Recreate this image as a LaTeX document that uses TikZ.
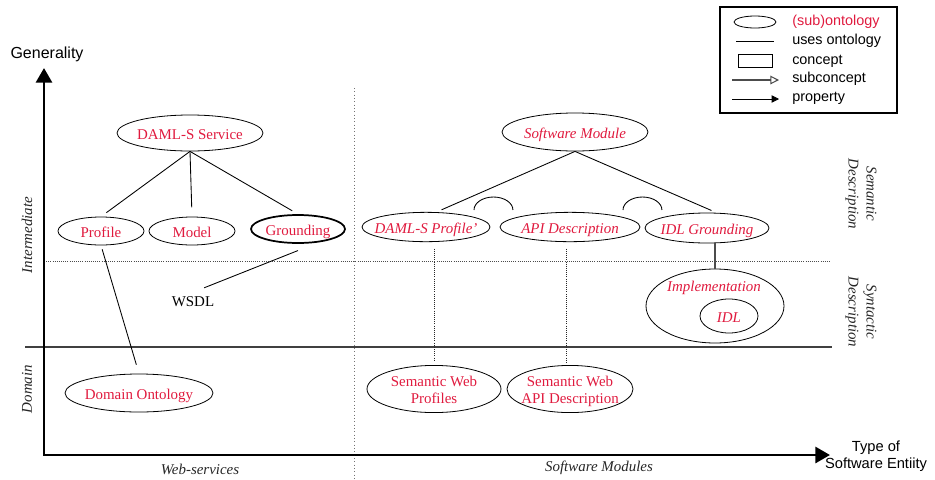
\documentclass[tikz,border=0pt]{standalone}
\usepackage{fontspec}
\setmainfont{Liberation Serif}
\newfontfamily\legendfont{Liberation Sans}
\usetikzlibrary{shapes.geometric,arrows.meta}
\definecolor{ored}{RGB}{224,26,62}
% label inside an ellipse that does not widen the ellipse, set a little lower
\newcommand\ctrlbl[1]{\makebox[0pt]{\raisebox{-2pt}[\height][\depth]{\begin{tabular}{@{}c@{}}#1\end{tabular}}}}

\begin{document}
\begin{tikzpicture}[x=0.75pt,y=-0.75pt,
  onto/.style={ellipse, draw, line width=0.6pt, inner sep=0pt, text=ored,
    font=\fontsize{11.2}{12.5}\selectfont},
  ontoit/.style={onto, font=\fontsize{11.2}{12.5}\selectfont\itshape},
  link/.style={line width=0.65pt},
  dotlink/.style={line width=0.6pt, densely dotted, black!85},
  sidelbl/.style={font=\fontsize{11.2}{13.5}\selectfont\itshape, text=black!85},
  legtxt/.style={anchor=west, inner sep=0pt, text height=1.5ex, text depth=.25ex,
    font=\legendfont\fontsize{10.8}{12}\selectfont},
  axislbl/.style={font=\legendfont\fontsize{11}{12.8}\selectfont, align=center},
  axis/.style={line width=2.2pt, line join=miter,
    {Triangle[length=11pt,width=12pt]}-{Triangle[length=11pt,width=12pt]}}
]
\useasboundingbox (0,0) rectangle (935,479);

% ---- region guides ----
\draw[line width=0.6pt, densely dotted, black!70] (44,261) -- (830,261);
\draw[line width=0.5pt, dotted, black!55] (354,88) -- (354,479);
\draw[line width=0.8pt, black!75] (25,347) -- (832,347);

% ---- axes ----
\coordinate (O) at (44,455);
\coordinate (ytip) at (44,68);
\coordinate (xtip) at (830,455);
\draw[axis] (ytip) -- (O) -- (xtip);
\node[axislbl, font=\legendfont\fontsize{12}{13}\selectfont] (gen) at (47,54) {Generality};
\node[axislbl] (ent) at (876,456) {Type of\\Software Entiity};

% ---- side and column labels ----
\node[sidelbl, rotate=90] (lint) at (27,235) {Intermediate};
\node[sidelbl, rotate=90] (ldom) at (27,389) {Domain};
\node[sidelbl, rotate=-90, align=center] (lsem) at (861,194) {Semantic\\Description};
\node[sidelbl, rotate=-90, align=center] (lsyn) at (861,312) {Syntactic\\Description};
\node[sidelbl] (lweb) at (200,469) {Web-services};
\node[sidelbl] (lsw) at (599,468) {Software Modules};

% ---- web-service ontologies ----
\node[onto, minimum width=109.5pt, minimum height=27pt] (svc) at (190,133) {\ctrlbl{DAML-S Service}};
\node[onto, minimum width=64.5pt, minimum height=21pt] (prof) at (101,231) {\ctrlbl{Profile}};
\node[onto, minimum width=64.5pt, minimum height=21pt] (model) at (192,231) {\ctrlbl{Model}};
\node[onto, line width=1.3pt, minimum width=70.5pt, minimum height=21pt] (grd) at (298,229) {\ctrlbl{Grounding}};
\node[font=\fontsize{11.2}{12.5}\selectfont] (wsdl) at (193,302) {WSDL};
\node[onto, minimum width=111pt, minimum height=28.5pt] (dom) at (139,393) {\ctrlbl{Domain Ontology}};

\draw[link, shorten >=5pt] (svc.south) -- (prof.north);
\draw[link, shorten >=7pt] (svc.south) -- (model.north);
\draw[link, shorten >=5pt] (svc.south) -- (grd.north);
\draw[link, shorten <=3pt, shorten >=7pt] (prof.south) -- (dom.north);
\draw[link, shorten >=9pt] ([yshift=-5pt]grd.south) -- (wsdl.north);

% ---- software-module ontologies ----
\node[ontoit, minimum width=109.5pt, minimum height=28.5pt] (sm) at (575,132) {\ctrlbl{Software Module}};
\node[ontoit, minimum width=96pt, minimum height=22pt] (dp) at (426,227) {\ctrlbl{DAML-S Profile'}};
\node[ontoit, minimum width=105pt, minimum height=22pt] (apid) at (570,227) {\ctrlbl{API Description}};
\node[ontoit, minimum width=93pt, minimum height=22.5pt] (idlg) at (707,228) {\ctrlbl{IDL Grounding}};
\node[onto, minimum width=103.5pt, minimum height=55.5pt] (impl) at (715,306) {};
\node[text=ored, font=\fontsize{11.2}{12.5}\selectfont\itshape] (impltxt) at (714,288) {Implementation};
\node[ontoit, minimum width=43.5pt, minimum height=25.5pt] (idl) at (729,316) {\ctrlbl{IDL}};
\node[onto, minimum width=100.5pt, minimum height=31pt] (swp) at (434,389) {\ctrlbl{Semantic Web\\Profiles}};
\node[onto, minimum width=94.5pt, minimum height=31.5pt] (swa) at (570,389) {\ctrlbl{Semantic Web\\API Description}};

\draw[link, shorten >=4pt] (sm.south) -- ([xshift=8pt]dp.north);
\draw[link, shorten >=4pt] (sm.south) -- ([xshift=7pt]idlg.north);
% composition arcs between siblings
\draw[link] (474,210) arc[start angle=180, end angle=0, x radius=14.6pt, y radius=9.75pt];
\draw[link] (623,210) arc[start angle=180, end angle=0, x radius=14.6pt, y radius=9.75pt];

\draw[dotlink, shorten <=5pt, shorten >=3pt] (dp.south -| swp.north) -- (swp.north);
\draw[dotlink, shorten <=5pt, shorten >=2pt] ([xshift=-3pt]apid.south) -- ([xshift=-3pt]apid.south |- swa.north);
\draw[line width=0.9pt, black!70] (impl.north |- idlg.south) -- (impl.north);

% ---- legend ----
\node[draw, line width=0.8pt, minimum width=132.75pt, minimum height=79.5pt, inner sep=0pt] (legend) at (808.5,60) {};
\node[ellipse, draw, line width=0.6pt, minimum width=31.5pt, minimum height=9pt, inner sep=0pt] (kont) at (755,22) {};
\node[legtxt, text=ored] (tont) at (792,22) {(sub)ontology};
\coordinate (kuse1) at (736,41);
\coordinate (kuse2) at (774,41);
\draw[line width=0.6pt] (kuse1) -- (kuse2);
\node[legtxt] (tuse) at (792,41) {uses ontology};
\node[draw, line width=0.6pt, minimum width=25.5pt, minimum height=9.75pt, inner sep=0pt] (kcon) at (755,60.5) {};
\node[legtxt] (tcon) at (792,61) {concept};
\coordinate (ksub1) at (732,80);
\coordinate (ksub2) at (779,80);
\draw[line width=0.8pt, black!70, -{Triangle[open, length=6.5pt, width=6.5pt]}] (ksub1) -- (ksub2);
\node[legtxt] (tsub) at (792,79) {subconcept};
\coordinate (kprop1) at (732,99);
\coordinate (kprop2) at (779,99);
\draw[line width=0.6pt, -{Triangle[length=5.5pt, width=5.5pt]}] (kprop1) -- (kprop2);
\node[legtxt] (tprop) at (792,98) {property};
\end{tikzpicture}
\end{document}
